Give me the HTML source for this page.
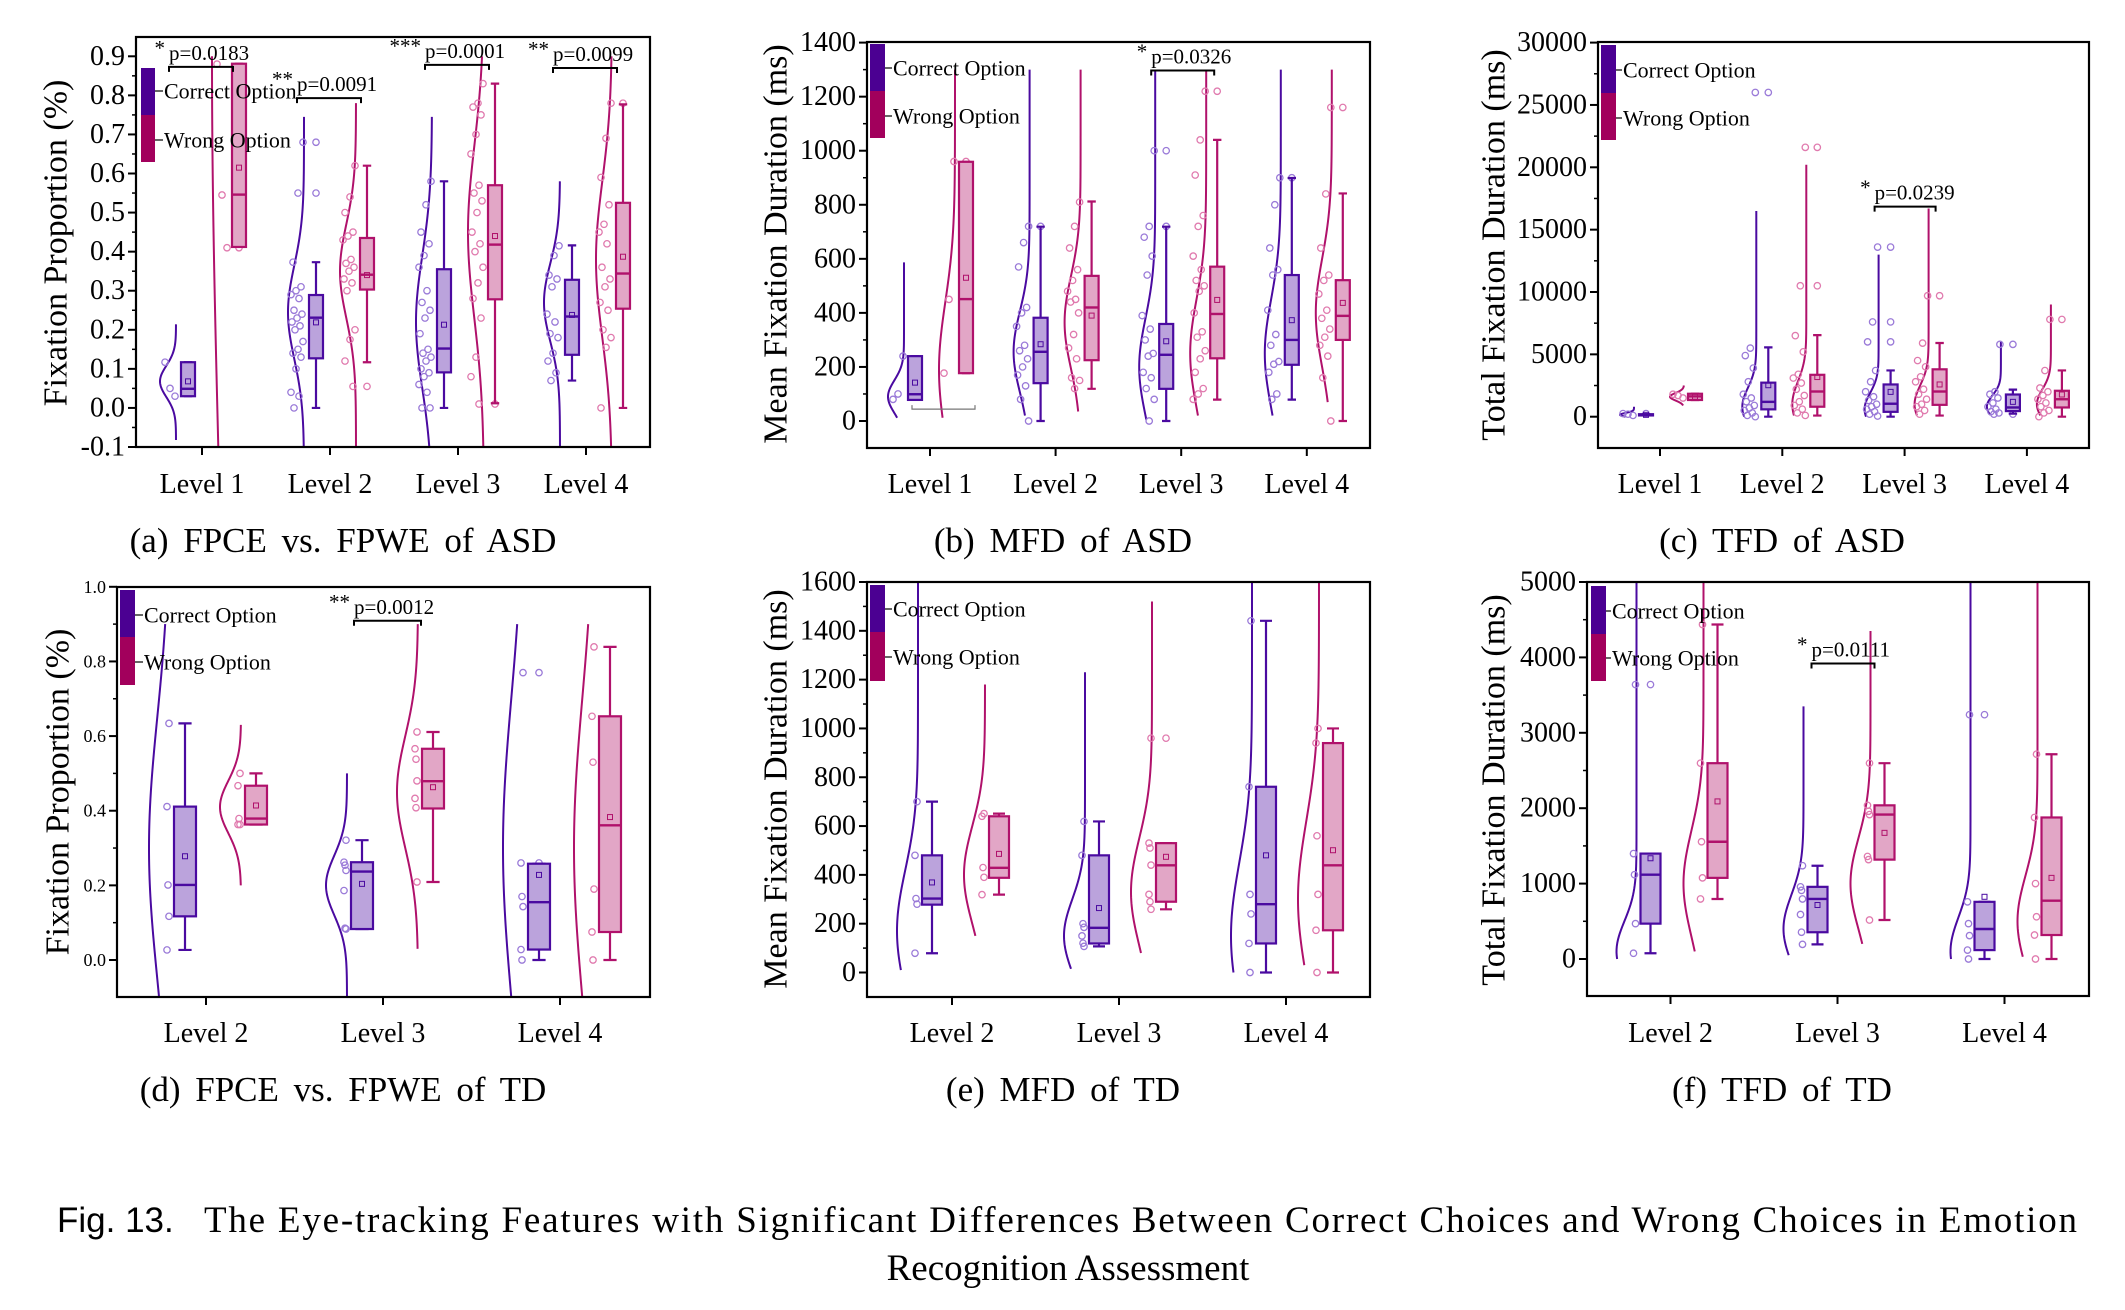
<!DOCTYPE html>
<html><head><meta charset="utf-8"><style>
html,body{margin:0;padding:0;background:#fff;}
svg{display:block;font-family:"Liberation Serif",serif;}
</style></head><body>
<svg id="fig" xmlns="http://www.w3.org/2000/svg" width="2125" height="1310" viewBox="0 0 2125 1310">
<rect width="2125" height="1310" fill="#fff"/>
<text x="57" y="1232" font-family="Liberation Sans, sans-serif" font-size="35" fill="#000">Fig. 13.</text>
<text x="204" y="1232" font-size="37" fill="#000" textLength="1873" lengthAdjust="spacing">The Eye-tracking Features with Significant Differences Between Correct Choices and Wrong Choices in Emotion</text>
<text x="1068" y="1280" font-size="37" fill="#000" text-anchor="middle">Recognition Assessment</text>
</svg>
<script>
// ---------- Panel (a) data: FPCE vs FPWE of ASD ----------
const aLevels = ['Level 1','Level 2','Level 3','Level 4'];
const aTicks = [-0.1,0,0.1,0.2,0.3,0.4,0.5,0.6,0.7,0.8,0.9];
const aTickLabels = ['-0.1','0.0','0.1','0.2','0.3','0.4','0.5','0.6','0.7','0.8','0.9'];
const aCorrectBox = [[0.03,0.03,0.049,0.117,0.117,0.068],[0,0.127,0.231,0.289,0.373,0.219],[0,0.091,0.152,0.355,0.58,0.213],[0.07,0.136,0.234,0.328,0.416,0.238]];
const aWrongBox = [[0.412,0.412,0.546,0.881,0.881,0.615],[0.117,0.303,0.341,0.435,0.62,0.34],[0.012,0.278,0.418,0.57,0.83,0.44],[0,0.254,0.344,0.525,0.777,0.387]];
const aCorrectViolin = [[-0.082,0.214,0.068,0.04],[-0.1,0.745,0.245,0.12],[-0.1,0.745,0.22,0.17],[-0.1,0.58,0.27,0.1]];
const aWrongViolin = [[-0.1,0.9,0.9,1.0],[-0.1,0.78,0.35,0.12],[-0.1,0.9,0.45,0.22],[-0.1,0.9,0.38,0.2]];
const aCorrectPts = [[0.03,0.05,0.117],[0.68,0.55,0.373,0.31,0.3,0.29,0.28,0.25,0.24,0.23,0.22,0.21,0.2,0.17,0.15,0.14,0.13,0.1,0.04,0.03,0.0],[0.58,0.52,0.45,0.42,0.39,0.36,0.3,0.27,0.25,0.23,0.19,0.15,0.14,0.13,0.12,0.1,0.09,0.08,0.06,0.04,0.0,0.0],[0.415,0.39,0.34,0.33,0.31,0.24,0.22,0.19,0.18,0.14,0.12,0.09,0.07]];
const aWrongPts = [[0.41,0.545,0.88],[0.62,0.54,0.5,0.45,0.44,0.43,0.38,0.37,0.36,0.35,0.33,0.32,0.3,0.2,0.175,0.12,0.055],[0.83,0.78,0.77,0.75,0.7,0.65,0.57,0.55,0.53,0.5,0.45,0.42,0.4,0.36,0.32,0.28,0.23,0.13,0.08,0.01],[0.78,0.69,0.59,0.52,0.47,0.45,0.42,0.36,0.33,0.31,0.27,0.25,0.2,0.18,0.155,0.0]];
const aSigLevel = [0,1,2,3];
const aSigValue = [0.873,0.793,0.878,0.87];
const aSigStars = ['*','**','***','**'];
const aSigText = ['p=0.0183','p=0.0091','p=0.0001','p=0.0099'];

// ---------- Panel (b) data: MFD of ASD ----------
const bLevels = ['Level 1','Level 2','Level 3','Level 4'];
const bTicks = [0,200,400,600,800,1000,1200,1400];
const bTickLabels = ['0','200','400','600','800','1000','1200','1400'];
const bCorrectBox = [[78,78,99,240,240,142],[0,140,256,382,719,284],[0,119,245,359,719,295],[79,208,300,540,899,373]];
const bWrongBox = [[177,177,451,959,959,530],[119,225,420,537,812,390],[79,232,396,571,1040,448],[0,300,389,521,842,437]];
const bCorrectViolin = [[12,587,90,60],[20,1300,256,150],[5,1300,200,180],[20,1300,250,200]];
const bWrongViolin = [[12,1300,190,250],[35,1300,365,170],[20,1300,250,200],[70,1300,400,200]];
const bCorrectPts = [[240,100,80],[720,660,570,420,400,350,280,260,230,200,170,130,80,0],[1000,720,680,610,540,390,340,300,250,240,180,160,120,80,0],[900,800,640,560,540,410,320,280,220,210,180,100,80]];
const bWrongPts = [[960,450,177],[810,720,640,560,520,480,450,440,400,320,270,230,160,150,120],[1220,1040,910,760,720,610,560,520,500,480,400,330,310,260,230,180,120,100,80],[1160,840,640,540,520,470,410,380,340,310,280,240,160,0]];
const bSigLevel = [2];
const bSigValue = [1297];
const bSigStars = ['*'];
const bSigText = ['p=0.0326'];

// ---------- Panel (c) data: TFD of ASD ----------
const cLevels = ['Level 1','Level 2','Level 3','Level 4'];
const cTicks = [0,5000,10000,15000,20000,25000,30000];
const cTickLabels = ['0','5000','10000','15000','20000','25000','30000'];
const cCorrectBox = [[100,100,150,200,200,150],[0,590,1190,2730,5560,2525],[0,390,1040,2585,3710,1990],[240,450,740,1780,2170,1190]];
const cWrongBox = [[1340,1340,1630,1840,1840,1600],[90,800,2020,3360,6540,3180],[90,950,2020,3800,5910,2585],[0,740,1400,2080,3710,1780]];
const cCorrectViolin = [[0,800,150,150],[0,16500,800,1500],[0,13000,600,1300],[150,6000,800,900]];
const cWrongViolin = [[900,2500,1600,300],[100,20200,1000,1800],[100,16700,1000,1500],[100,9000,1000,1200]];
const cCorrectPts = [[100,200,250],[26000,5500,4900,3900,2800,1800,1500,1200,900,700,500,300,100,0],[13600,7600,6000,3700,2800,2000,1600,1300,1000,800,600,400,200,50],[5800,2000,1800,1500,1100,800,600,400,300,200]];
const cWrongPts = [[1500,1700,1800],[21600,10500,6500,5200,3400,3100,2700,2200,1700,1200,900,600,300,100],[9700,5900,4500,4000,3200,2800,2200,1800,1400,1000,800,500,200],[7800,3700,2300,2000,1700,1400,1100,800,500,300,0]];
const cSigLevel = [2];
const cSigValue = [16845];
const cSigStars = ['*'];
const cSigText = ['p=0.0239'];

// ---------- Panel (d) data: FPCE vs FPWE of TD ----------
const dLevels = ['Level 2','Level 3','Level 4'];
const dTicks = [0,0.2,0.4,0.6,0.8,1.0];
const dTickLabels = ['0.0','0.2','0.4','0.6','0.8','1.0'];
const dCorrectBox = [[0.027,0.117,0.201,0.411,0.634,0.278],[0.083,0.083,0.237,0.262,0.321,0.204],[0,0.028,0.155,0.258,0.258,0.228]];
const dWrongBox = [[0.363,0.363,0.379,0.467,0.5,0.414],[0.209,0.406,0.479,0.566,0.611,0.463],[0,0.075,0.361,0.653,0.839,0.383]];
const dCorrectViolin = [[-0.12,0.9,0.3,0.35],[-0.12,0.5,0.2,0.08],[-0.12,0.9,0.3,0.4]];
const dWrongViolin = [[0.2,0.63,0.41,0.07],[0.03,0.9,0.45,0.15],[-0.12,0.9,0.3,0.4]];
const dCorrectPts = [[0.634,0.411,0.201,0.117,0.027],[0.321,0.262,0.254,0.24,0.186,0.085,0.083],[0.77,0.26,0.17,0.143,0.028,0.0]];
const dWrongPts = [[0.5,0.467,0.379,0.363,0.363],[0.611,0.566,0.538,0.48,0.433,0.408,0.209],[0.839,0.653,0.53,0.19,0.075,0.0]];
const dSigLevel = [1];
const dSigValue = [0.909];
const dSigStars = ['**'];
const dSigText = ['p=0.0012'];

// ---------- Panel (e) data: MFD of TD ----------
const eLevels = ['Level 2','Level 3','Level 4'];
const eTicks = [0,200,400,600,800,1000,1200,1400,1600];
const eTickLabels = ['0','200','400','600','800','1000','1200','1400','1600'];
const eCorrectBox = [[79,278,303,480,700,369],[107,119,183,480,619,264],[0,119,280,761,1441,480]];
const eWrongBox = [[319,388,429,640,651,486],[259,290,439,530,530,474],[0,173,439,940,1000,501]];
const eCorrectViolin = [[10,1620,170,250],[15,1230,150,150],[0,1620,150,300]];
const eWrongViolin = [[150,1180,400,200],[80,1520,330,220],[30,1620,300,320]];
const eCorrectPts = [[700,480,303,280,79],[619,480,200,185,150,120,107],[1441,761,320,240,119,0]];
const eWrongPts = [[651,640,430,390,319],[960,530,510,440,320,290,259],[1000,940,560,320,173,0]];
const eSigLevel = [];
const eSigValue = [];
const eSigStars = [];
const eSigText = [];

// ---------- Panel (f) data: TFD of TD ----------
const fLevels = ['Level 2','Level 3','Level 4'];
const fTicks = [0,1000,2000,3000,4000,5000];
const fTickLabels = ['0','1000','2000','3000','4000','5000'];
const fCorrectBox = [[76,469,1118,1398,1398,1336],[194,355,796,957,1237,716],[0,118,398,758,758,825]];
const fWrongBox = [[796,1076,1555,2597,4436,2090],[517,1318,1915,2038,2597,1673],[0,318,773,1877,2716,1076]];
const fCorrectViolin = [[0,5100,100,400],[50,3350,400,450],[0,5100,100,450]];
const fWrongViolin = [[100,5100,1000,700],[200,4350,1000,600],[30,5100,500,600]];
const fCorrectPts = [[3640,1398,1118,469,76],[1237,957,910,796,590,355,194],[3240,758,469,310,118,0]];
const fWrongPts = [[4436,2597,1555,1076,796],[2597,2038,1960,1915,1360,1318,517],[2716,1877,1000,560,318,0]];
const fSigLevel = [1];
const fSigValue = [3919];
const fSigStars = ['*'];
const fSigText = ['p=0.0111'];

const NS = 'http://www.w3.org/2000/svg';
const svg = document.getElementById('fig');
const C_LINE = '#4a0aa0', C_FILL = '#bba3dc', C_PT = '#9a7ad8';
const W_LINE = '#b0116b', W_FILL = '#e2a6c6', W_PT = '#e07aae';
function mk(tag, attrs, parent) {
  const e = document.createElementNS(NS, tag);
  for (const k in attrs) e.setAttribute(k, attrs[k]);
  parent.appendChild(e);
  return e;
}

function panel(P) {
  const g = mk('g', {}, svg);
  
  
  const yS = v => P.y0 + (v - P.v0) * (P.y1 - P.y0) / (P.v1 - P.v0);
  const xS = i => P.xL0 + i * P.dx;
  const defs = mk('defs', {}, g);
  const cp = mk('clipPath', {id: 'clip-' + P.id}, defs);
  mk('rect', {x: P.left, y: P.top, width: P.right - P.left, height: P.bottom - P.top}, cp);
  const plot = mk('g', {'clip-path': 'url(#clip-' + P.id + ')'}, g);
  
  

  for (let i = 0; i < P.ticks.length; i++) {
    const y = yS(P.ticks[i]);
    const t = mk('line', {x1: P.left - 8, x2: P.left, y1: y, y2: y, stroke: '#000', 'stroke-width': 2}, g);
    
    
    const lb = mk('text', {x: P.left - 11, y: y, 'text-anchor': 'end', 'dominant-baseline': 'central', 'font-size': P.tickFont, fill: '#000'}, g);
    lb.textContent = P.tickLabels[i];
    
    
    if (i < P.ticks.length - 1) {
      const ym = yS((P.ticks[i] + P.ticks[i + 1]) / 2);
      const mt = mk('line', {x1: P.left - 4, x2: P.left, y1: ym, y2: ym, stroke: '#000', 'stroke-width': 1.5}, g);
      
      
    }
  }
  const yt = mk('text', {x: P.titleX, y: P.titleY, 'text-anchor': 'middle', 'dominant-baseline': 'central', 'font-size': 34, fill: '#000', transform: 'rotate(-90 ' + P.titleX + ' ' + P.titleY + ')'}, g);
  yt.textContent = P.title;
  
  

  const groups = [
    {box: P.cBox, vio: P.cVio, pts: P.cPts, vOff: P.off[0], bOff: P.off[1], line: C_LINE, fill: C_FILL, pt: C_PT, nm: 'correct'},
    {box: P.wBox, vio: P.wVio, pts: P.wPts, vOff: P.off[2], bOff: P.off[3], line: W_LINE, fill: W_FILL, pt: W_PT, nm: 'wrong'}
  ];
  for (let i = 0; i < P.levels.length; i++) {
    const xc = xS(i);
    const tk = mk('line', {x1: xc, x2: xc, y1: P.bottom, y2: P.bottom + 8, stroke: '#000', 'stroke-width': 2}, g);
    
    
    const xl = mk('text', {x: xc, y: P.levelY, 'text-anchor': 'middle', 'font-size': 28, fill: '#000'}, g);
    xl.textContent = P.levels[i];
    
    
    for (const G of groups) {
      const base = xc + G.vOff, bx = xc + G.bOff;
      const [lo, hi, mu, sd] = G.vio[i];
      let d = '';
      const N = 120;
      for (let k = 0; k <= N; k++) {
        const v = lo + (hi - lo) * k / N;
        const x = base - P.vw * Math.exp(-((v - mu) * (v - mu)) / (2 * sd * sd));
        d += (k ? 'L' : 'M') + x.toFixed(2) + ',' + yS(v).toFixed(2);
      }
      const vp = mk('path', {d: d, fill: 'none', stroke: G.line, 'stroke-width': 2}, plot);
      
      
      const [mn, q1, md, q3, mx, mean] = G.box[i];
      G.pts[i].forEach((v, k) => {
        const jx = base - 1 - ((k * 5) % P.jit);
        const c = mk('circle', {cx: jx, cy: yS(v), r: 3.2, fill: 'none', stroke: G.pt, 'stroke-width': 1.3}, plot);
        
        
        if (v > mx + 1e-9 || v < mn - 1e-9) {
          const c2 = mk('circle', {cx: bx, cy: yS(v), r: 3.2, fill: 'none', stroke: G.pt, 'stroke-width': 1.3}, plot);
          
          
        }
      });
      const hw = P.bw / 2, cw = P.bw * 0.3;
      const wh = mk('path', {d: 'M' + bx + ',' + yS(mx) + 'V' + yS(q3) + 'M' + bx + ',' + yS(q1) + 'V' + yS(mn) + 'M' + (bx - cw) + ',' + yS(mx) + 'H' + (bx + cw) + 'M' + (bx - cw) + ',' + yS(mn) + 'H' + (bx + cw), stroke: G.line, 'stroke-width': 2.2, fill: 'none'}, plot);
      
      
      const r = mk('rect', {x: bx - hw, y: yS(q3), width: P.bw, height: Math.max(1, yS(q1) - yS(q3)), fill: G.fill, stroke: G.line, 'stroke-width': 2.2}, plot);
      
      
      const ml = mk('line', {x1: bx - hw, x2: bx + hw, y1: yS(md), y2: yS(md), stroke: G.line, 'stroke-width': 2.4}, plot);
      
      
      const ms = mk('rect', {x: bx - 2.5, y: yS(mean) - 2.5, width: 5, height: 5, fill: 'none', stroke: G.line, 'stroke-width': 1}, plot);
      
      
    }
  }
  const fr = mk('rect', {x: P.left, y: P.top, width: P.right - P.left, height: P.bottom - P.top, fill: 'none', stroke: '#000', 'stroke-width': 2.2}, g);
  
  
  for (let s = 0; s < P.sigL.length; s++) {
    const xc = xS(P.sigL[s]), y = yS(P.sigV[s]);
    const x1 = xc + P.br[0], x2 = xc + P.br[1];
    const bk = mk('path', {d: 'M' + x1 + ',' + (y + 5) + 'V' + y + 'H' + x2 + 'V' + (y + 5), fill: 'none', stroke: '#000', 'stroke-width': 2}, g);
    
    
    const st = mk('text', {x: x1 - 4, y: y - 12, 'text-anchor': 'end', 'font-size': 21, fill: '#000'}, g);
    st.textContent = P.sigS[s];
    
    
    const pt = mk('text', {x: x1, y: y - 7, 'font-size': 21, fill: '#000'}, g);
    pt.textContent = P.sigT[s];
    
    
  }
  if (P.extraLine) {
    const xc = xS(0), y = yS(P.extraLine);
    const el = mk('path', {d: 'M' + (xc - 18) + ',' + (y - 4) + 'V' + y + 'H' + (xc + 45) + 'V' + (y - 4), fill: 'none', stroke: '#777', 'stroke-width': 1.2}, g);
    
    
  }
  const L = P.leg;
  const lg = mk('g', {}, g);
  
  
  const b1 = mk('rect', {x: L[0], y: L[2], width: L[1] - L[0], height: L[3] - L[2], fill: '#4b0092'}, lg);
  
  
  const b2 = mk('rect', {x: L[0], y: L[3], width: L[1] - L[0], height: L[4] - L[3], fill: '#a2005c'}, lg);
  
  
  [['Correct Option', L[6], 'legend-entry-correct'], ['Wrong Option', L[7], 'legend-entry-wrong']].forEach(e => {
    const tl = mk('line', {x1: L[1], x2: L[5] - 1, y1: e[1], y2: e[1], stroke: '#000', 'stroke-width': 1.2}, lg);
    
    
    const tx = mk('text', {x: L[5], y: e[1], 'dominant-baseline': 'central', 'font-size': 22, fill: '#000'}, lg);
    tx.textContent = e[0];
    
    
  });
  const cap = mk('text', {x: P.capX, y: P.capY, 'text-anchor': 'middle', 'font-size': 35, 'word-spacing': 6, fill: '#000'}, g);
  cap.textContent = P.caption;
  
  
}

panel({id: 'a', left: 136, right: 650, top: 37, bottom: 447, y0: 56.3, v0: 0.9, y1: 447, v1: -0.1, xL0: 202, dx: 128,
  off: [-26, -14, 26, 37], bw: 14, vw: 16, jit: 13, tickFont: 28, titleX: 56, titleY: 243, title: 'Fixation Proportion (%)',
  levelY: 493, capX: 343, capY: 552, caption: '(a) FPCE vs. FPWE of ASD', br: [-33, 31],
  leg: [141, 155, 68, 115, 162, 164, 91, 140],
  levels: aLevels, ticks: aTicks, tickLabels: aTickLabels, cBox: aCorrectBox, wBox: aWrongBox, cVio: aCorrectViolin, wVio: aWrongViolin,
  cPts: aCorrectPts, wPts: aWrongPts, sigL: aSigLevel, sigV: aSigValue, sigS: aSigStars, sigT: aSigText});
panel({id: 'b', left: 867, right: 1370, top: 42, bottom: 448, y0: 42.6, v0: 1400, y1: 421, v1: 0, xL0: 930, dx: 125.6,
  off: [-26, -15, 25, 36], bw: 14, vw: 16, jit: 13, tickFont: 28, titleX: 776, titleY: 244, title: 'Mean Fixation Duration (ms)',
  levelY: 493, capX: 1063, capY: 552, caption: '(b) MFD of ASD', br: [-30, 33], extraLine: 44,
  leg: [870, 885, 44, 91, 138, 893, 68, 116],
  levels: bLevels, ticks: bTicks, tickLabels: bTickLabels, cBox: bCorrectBox, wBox: bWrongBox, cVio: bCorrectViolin, wVio: bWrongViolin,
  cPts: bCorrectPts, wPts: bWrongPts, sigL: bSigLevel, sigV: bSigValue, sigS: bSigStars, sigT: bSigText});
panel({id: 'c', left: 1598, right: 2089, top: 42, bottom: 448, y0: 42.6, v0: 30000, y1: 416.7, v1: 0, xL0: 1660, dx: 122.3,
  off: [-26, -14, 24, 35], bw: 14, vw: 14, jit: 13, tickFont: 28, titleX: 1494, titleY: 245, title: 'Total Fixation Duration (ms)',
  levelY: 493, capX: 1782, capY: 552, caption: '(c) TFD of ASD', br: [-30, 31],
  leg: [1601, 1616, 45, 93, 140, 1623, 70, 118],
  levels: cLevels, ticks: cTicks, tickLabels: cTickLabels, cBox: cCorrectBox, wBox: cWrongBox, cVio: cCorrectViolin, wVio: cWrongViolin,
  cPts: cCorrectPts, wPts: cWrongPts, sigL: cSigLevel, sigV: cSigValue, sigS: cSigStars, sigT: cSigText});
panel({id: 'd', left: 117, right: 650, top: 587, bottom: 997, y0: 586.8, v0: 1.0, y1: 960, v1: 0, xL0: 206, dx: 177,
  off: [-36, -21, 35, 50], bw: 22, vw: 21, jit: 3, tickFont: 18, titleX: 58, titleY: 792, title: 'Fixation Proportion (%)',
  levelY: 1042, capX: 343, capY: 1101, caption: '(d) FPCE vs. FPWE of TD', br: [-29, 38],
  leg: [120, 135, 590, 637, 685, 144, 615, 662],
  levels: dLevels, ticks: dTicks, tickLabels: dTickLabels, cBox: dCorrectBox, wBox: dWrongBox, cVio: dCorrectViolin, wVio: dWrongViolin,
  cPts: dCorrectPts, wPts: dWrongPts, sigL: dSigLevel, sigV: dSigValue, sigS: dSigStars, sigT: dSigText});
panel({id: 'e', left: 867, right: 1370, top: 582, bottom: 997, y0: 582, v0: 1600, y1: 972.5, v1: 0, xL0: 952, dx: 167,
  off: [-34, -20, 33, 47], bw: 20, vw: 21, jit: 3, tickFont: 28, titleX: 776, titleY: 789, title: 'Mean Fixation Duration (ms)',
  levelY: 1042, capX: 1063, capY: 1101, caption: '(e) MFD of TD', br: [-30, 33],
  leg: [870, 885, 585, 632, 681, 893, 609, 657],
  levels: eLevels, ticks: eTicks, tickLabels: eTickLabels, cBox: eCorrectBox, wBox: eWrongBox, cVio: eCorrectViolin, wVio: eWrongViolin,
  cPts: eCorrectPts, wPts: eWrongPts, sigL: eSigLevel, sigV: eSigValue, sigS: eSigStars, sigT: eSigText});
panel({id: 'f', left: 1587, right: 2089, top: 582, bottom: 996, y0: 582, v0: 5000, y1: 959, v1: 0, xL0: 1670.5, dx: 167,
  off: [-34, -20, 33, 47], bw: 20, vw: 20, jit: 3, tickFont: 28, titleX: 1494, titleY: 790, title: 'Total Fixation Duration (ms)',
  levelY: 1042, capX: 1782, capY: 1101, caption: '(f) TFD of TD', br: [-26, 37],
  leg: [1591, 1606, 586, 634, 681, 1612, 611, 658],
  levels: fLevels, ticks: fTicks, tickLabels: fTickLabels, cBox: fCorrectBox, wBox: fWrongBox, cVio: fCorrectViolin, wVio: fWrongViolin,
  cPts: fCorrectPts, wPts: fWrongPts, sigL: fSigLevel, sigV: fSigValue, sigS: fSigStars, sigT: fSigText});
</script>
</body></html>
